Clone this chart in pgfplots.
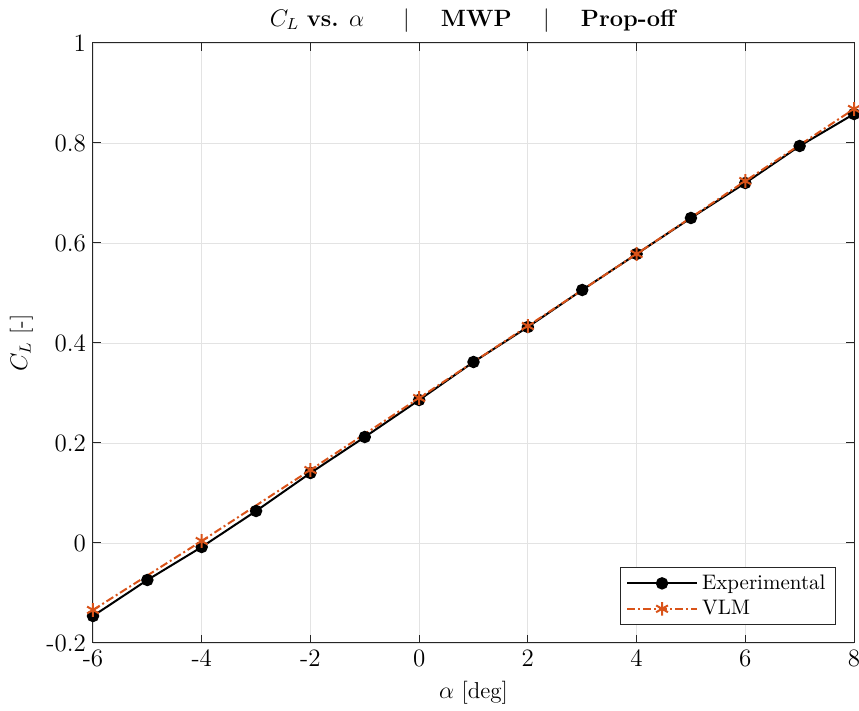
\documentclass[border=0pt]{standalone}
\usepackage{pgfplots}
\pgfplotsset{compat=1.18}
\usetikzlibrary{calc}
\definecolor{mlorange}{rgb}{0.85,0.325,0.098}
\begin{document}
\begin{tikzpicture}
\begin{axis}[
  name=ax,
  scale only axis,
  width=380.5pt, height=300pt,
  xmin=-6, xmax=8, ymin=-0.2, ymax=1,
  xtick={-6,-4,...,8},
  ytick={-0.2,0,0.2,0.4,0.6,0.8,1},
  yticklabels={-0.2,0,0.2,0.4,0.6,0.8,1},
  xticklabels={-6,-4,-2,0,2,4,6,8},
  tick align=inside,
  major tick length=4pt,
  tick style={black!85, line width=0.5pt},
  axis line style={black!85, line width=0.5pt},
  grid=major,
  grid style={gray!22, line width=0.4pt},
  xlabel={$\alpha$ [deg]},
  ylabel={$C_L$ [-]},
  label style={font=\fontsize{11.5}{13}\selectfont},
  tick label style={font=\fontsize{12.5}{14}\selectfont},
  title={$C_L$ \textbf{vs.} $\alpha$ \quad\ | \quad \textbf{MWP} \quad | \quad \textbf{Prop-off}},
  title style={font=\fontsize{11.8}{14}\selectfont, yshift=-4pt},
  legend style={at={(1,0)}, anchor=south east, xshift=-9pt, yshift=9pt,
    draw=black!85, line width=0.5pt, font=\fontsize{10.5}{13.5}\selectfont,
    inner xsep=3pt, inner ysep=1.5pt, row sep=0pt},
  legend cell align=left,
  legend image code/.code={
    \draw[mark repeat=2, mark phase=2] plot coordinates {(0pt,0pt) (17.5pt,0pt) (35pt,0pt)};
  },
]
\addplot[black, line width=1pt, mark=*, mark size=2.6pt] coordinates {
(-6,-0.146) (-5,-0.074) (-4,-0.008) (-3,0.064) (-2,0.140) (-1,0.212)
(0,0.286) (1,0.362) (2,0.432) (3,0.506) (4,0.578) (5,0.650)
(6,0.720) (7,0.794) (8,0.858)
};
\addlegendentry{Experimental}
\addplot[mlorange, line width=1pt, dash pattern=on 4pt off 1.5pt on 1pt off 1.5pt, mark=asterisk, mark size=3.4pt, mark options={solid, line width=1pt}] coordinates {
(-6,-0.134) (-4,0.004) (-2,0.146) (0,0.290) (2,0.434) (4,0.578) (6,0.724) (8,0.868)
};
\addlegendentry{VLM}
\end{axis}
\pgfresetboundingbox
\useasboundingbox ($(ax.south west)+(-46.5pt,-34pt)$) rectangle ($(ax.north east)+(2.5pt,21.5pt)$);
\end{tikzpicture}
\end{document}
